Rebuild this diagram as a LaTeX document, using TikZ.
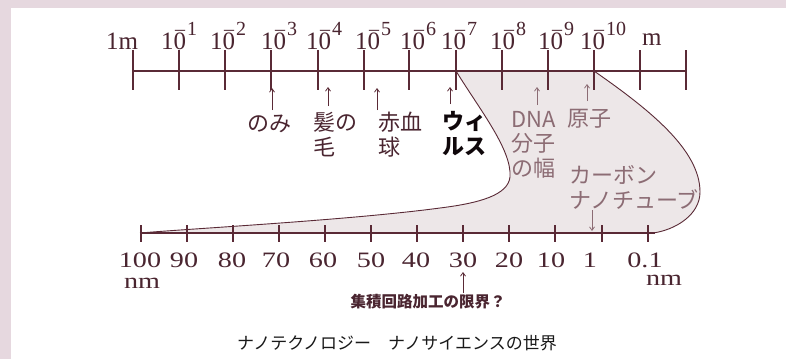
\documentclass[tikz,border=0pt]{standalone}
\usepackage{fontspec}
\newfontfamily\jp{Noto Sans CJK JP}
\newfontfamily\tms{Liberation Serif}
\usetikzlibrary{arrows.meta}
\definecolor{ln}{HTML}{5A2A36}
\definecolor{tx}{HTML}{4A2530}
\definecolor{lt}{HTML}{8C6C74}
\definecolor{sh}{HTML}{EDE7E8}
\definecolor{bd}{HTML}{E6D8DF}
\newcommand{\tenp}[1]{{\fontsize{25}{25}\selectfont 10}\kern-11pt\raisebox{14pt}{\fontsize{20}{20}\selectfont\textendash\kern2pt #1}}
\newcommand{\bnum}[1]{\scalebox{1.28}[1]{\tms\fontsize{22}{22}\selectfont #1}}
\tikzset{
  axisline/.style={draw=ln, line width=2pt},
  tickline/.style={draw=ln, line width=1.8pt},
  curveline/.style={draw=ln, line width=0.9pt},
  toplbl/.style={inner sep=0pt, anchor=base west, text=tx, font=\tms\fontsize{25}{25}\selectfont},
  botlbl/.style={inner sep=0pt, anchor=base, text=tx},
  jlab/.style={inner sep=0pt, anchor=base west, align=left, text=tx, font=\jp\fontsize{22}{24.5}\selectfont},
  arr/.style={draw=ln, line width=0.8pt, -{Straight Barb[length=3.5pt,width=5pt]}},
}
\begin{document}
\begin{tikzpicture}[x=1pt,y=-1pt]
\useasboundingbox (0,0) rectangle (786,359);
\fill[white] (0,0) rectangle (786,359);
\fill[bd] (0,0) rectangle (786,8);
\fill[bd] (0,0) rectangle (11,359);

% shaded region
\fill[sh] (456,71) -- (594,71)
  .. controls (650,110) and (700,150) .. (700,192)
  .. controls (700,215) and (675,230) .. (653,233)
  -- (140,233)
  .. controls (200,228) and (350,220) .. (440,208)
  .. controls (480,203) and (508,195) .. (510,177)
  .. controls (512,150) and (480,110) .. (456,71) -- cycle;
\draw[curveline] (594,71)
  .. controls (650,110) and (700,150) .. (700,192)
  .. controls (700,215) and (675,230) .. (653,233);
\draw[curveline] (140,233)
  .. controls (200,228) and (350,220) .. (440,208)
  .. controls (480,203) and (508,195) .. (510,177)
  .. controls (512,150) and (480,110) .. (456,71);

% top axis
\coordinate (tA) at (133,71);
\coordinate (tB) at (686,71);
\draw[axisline] (tA) -- (tB);
\foreach \x [count=\i] in {133,179,225,271,318,364,409,456,502,548,594,640,686}{
  \coordinate (tt\i) at (\x,50);
  \coordinate (tb\i) at (\x,90);
  \draw[tickline] (tt\i) -- (tb\i);
}
\node[toplbl] (l1m) at (106,49) {1m};
\foreach \s/\n in {161/1,210/2,261/3,306/4,355/5,400/6,441/7,490/8,538/9,580/10}{
  \node[toplbl] (e\n) at (\s,49) {\tenp{\n}};
}
\node[toplbl] (lm) at (642,45) {m};

% bottom axis
\coordinate (bA) at (140,233);
\coordinate (bB) at (655,233);
\draw[axisline] (bA) -- (bB);
\foreach \x [count=\i] in {141,187,233,279,325,371,417,463,509,555,602,648}{
  \coordinate (bt\i) at (\x,225);
  \coordinate (bb\i) at (\x,242);
  \draw[tickline] (bt\i) -- (bb\i);
}
\foreach \x/\t [count=\i] in {140/100,184/90,232/80,276/70,323/60,371/50,416/40,463/30,509/20,551/10,590/1,645/0.1}{
  \node[botlbl] (n\i) at (\x,267) {\bnum{\t}};
}
\node[botlbl] (nmL) at (142,288) {\bnum{nm}};
\node[botlbl] (nmR) at (664,285) {\bnum{nm}};

% labels on top axis (anchor = baseline of last line)
\node[jlab] (nomi) at (247,131) {のみ};
\node[jlab] (kami) at (313,155) {髪の\\毛};
\node[jlab] (sekk) at (378,155) {赤血\\球};
\node[jlab, text=black!80!tx, font=\jp\bfseries\fontsize{22}{24.5}\selectfont] (viru) at (442,154) {ウィ\\ルス};
\node[jlab, text=lt] (dna) at (511,176) {DNA\\分子\\の幅};
\node[jlab, text=lt] (gens) at (567,126) {原子};
\node[jlab, text=lt] (cnt) at (569,208) {カーボン\\ナノチューブ};

\coordinate (a1s) at (272,110); \coordinate (a1e) at (272,88);
\coordinate (a2s) at (328,106); \coordinate (a2e) at (328,87);
\coordinate (a3s) at (377,110); \coordinate (a3e) at (377,88);
\coordinate (a4s) at (450,104); \coordinate (a4e) at (450,87);
\coordinate (a5s) at (537,105); \coordinate (a5e) at (537,87);
\coordinate (a6s) at (587,101); \coordinate (a6e) at (587,84);
\coordinate (a7s) at (592,210); \coordinate (a7e) at (592,231);
\coordinate (a8s) at (463,293); \coordinate (a8e) at (463,272);
\draw[arr] (a1s) -- (a1e);
\draw[arr] (a2s) -- (a2e);
\draw[arr] (a3s) -- (a3e);
\draw[arr] (a4s) -- (a4e);
\draw[arr, draw=lt] (a5s) -- (a5e);
\draw[arr, draw=lt] (a6s) -- (a6e);
\draw[arr, draw=lt] (a7s) -- (a7e);
\draw[arr] (a8s) -- (a8e);

\node[botlbl, font=\jp\bfseries\fontsize{15.5}{16}\selectfont] (limit) at (428,307) {集積回路加工の限界？};
\node[botlbl, text=black!90, font=\jp\fontsize{17}{17}\selectfont] (cap) at (397,349) {ナノテクノロジー　ナノサイエンスの世界};
\end{tikzpicture}
\end{document}
